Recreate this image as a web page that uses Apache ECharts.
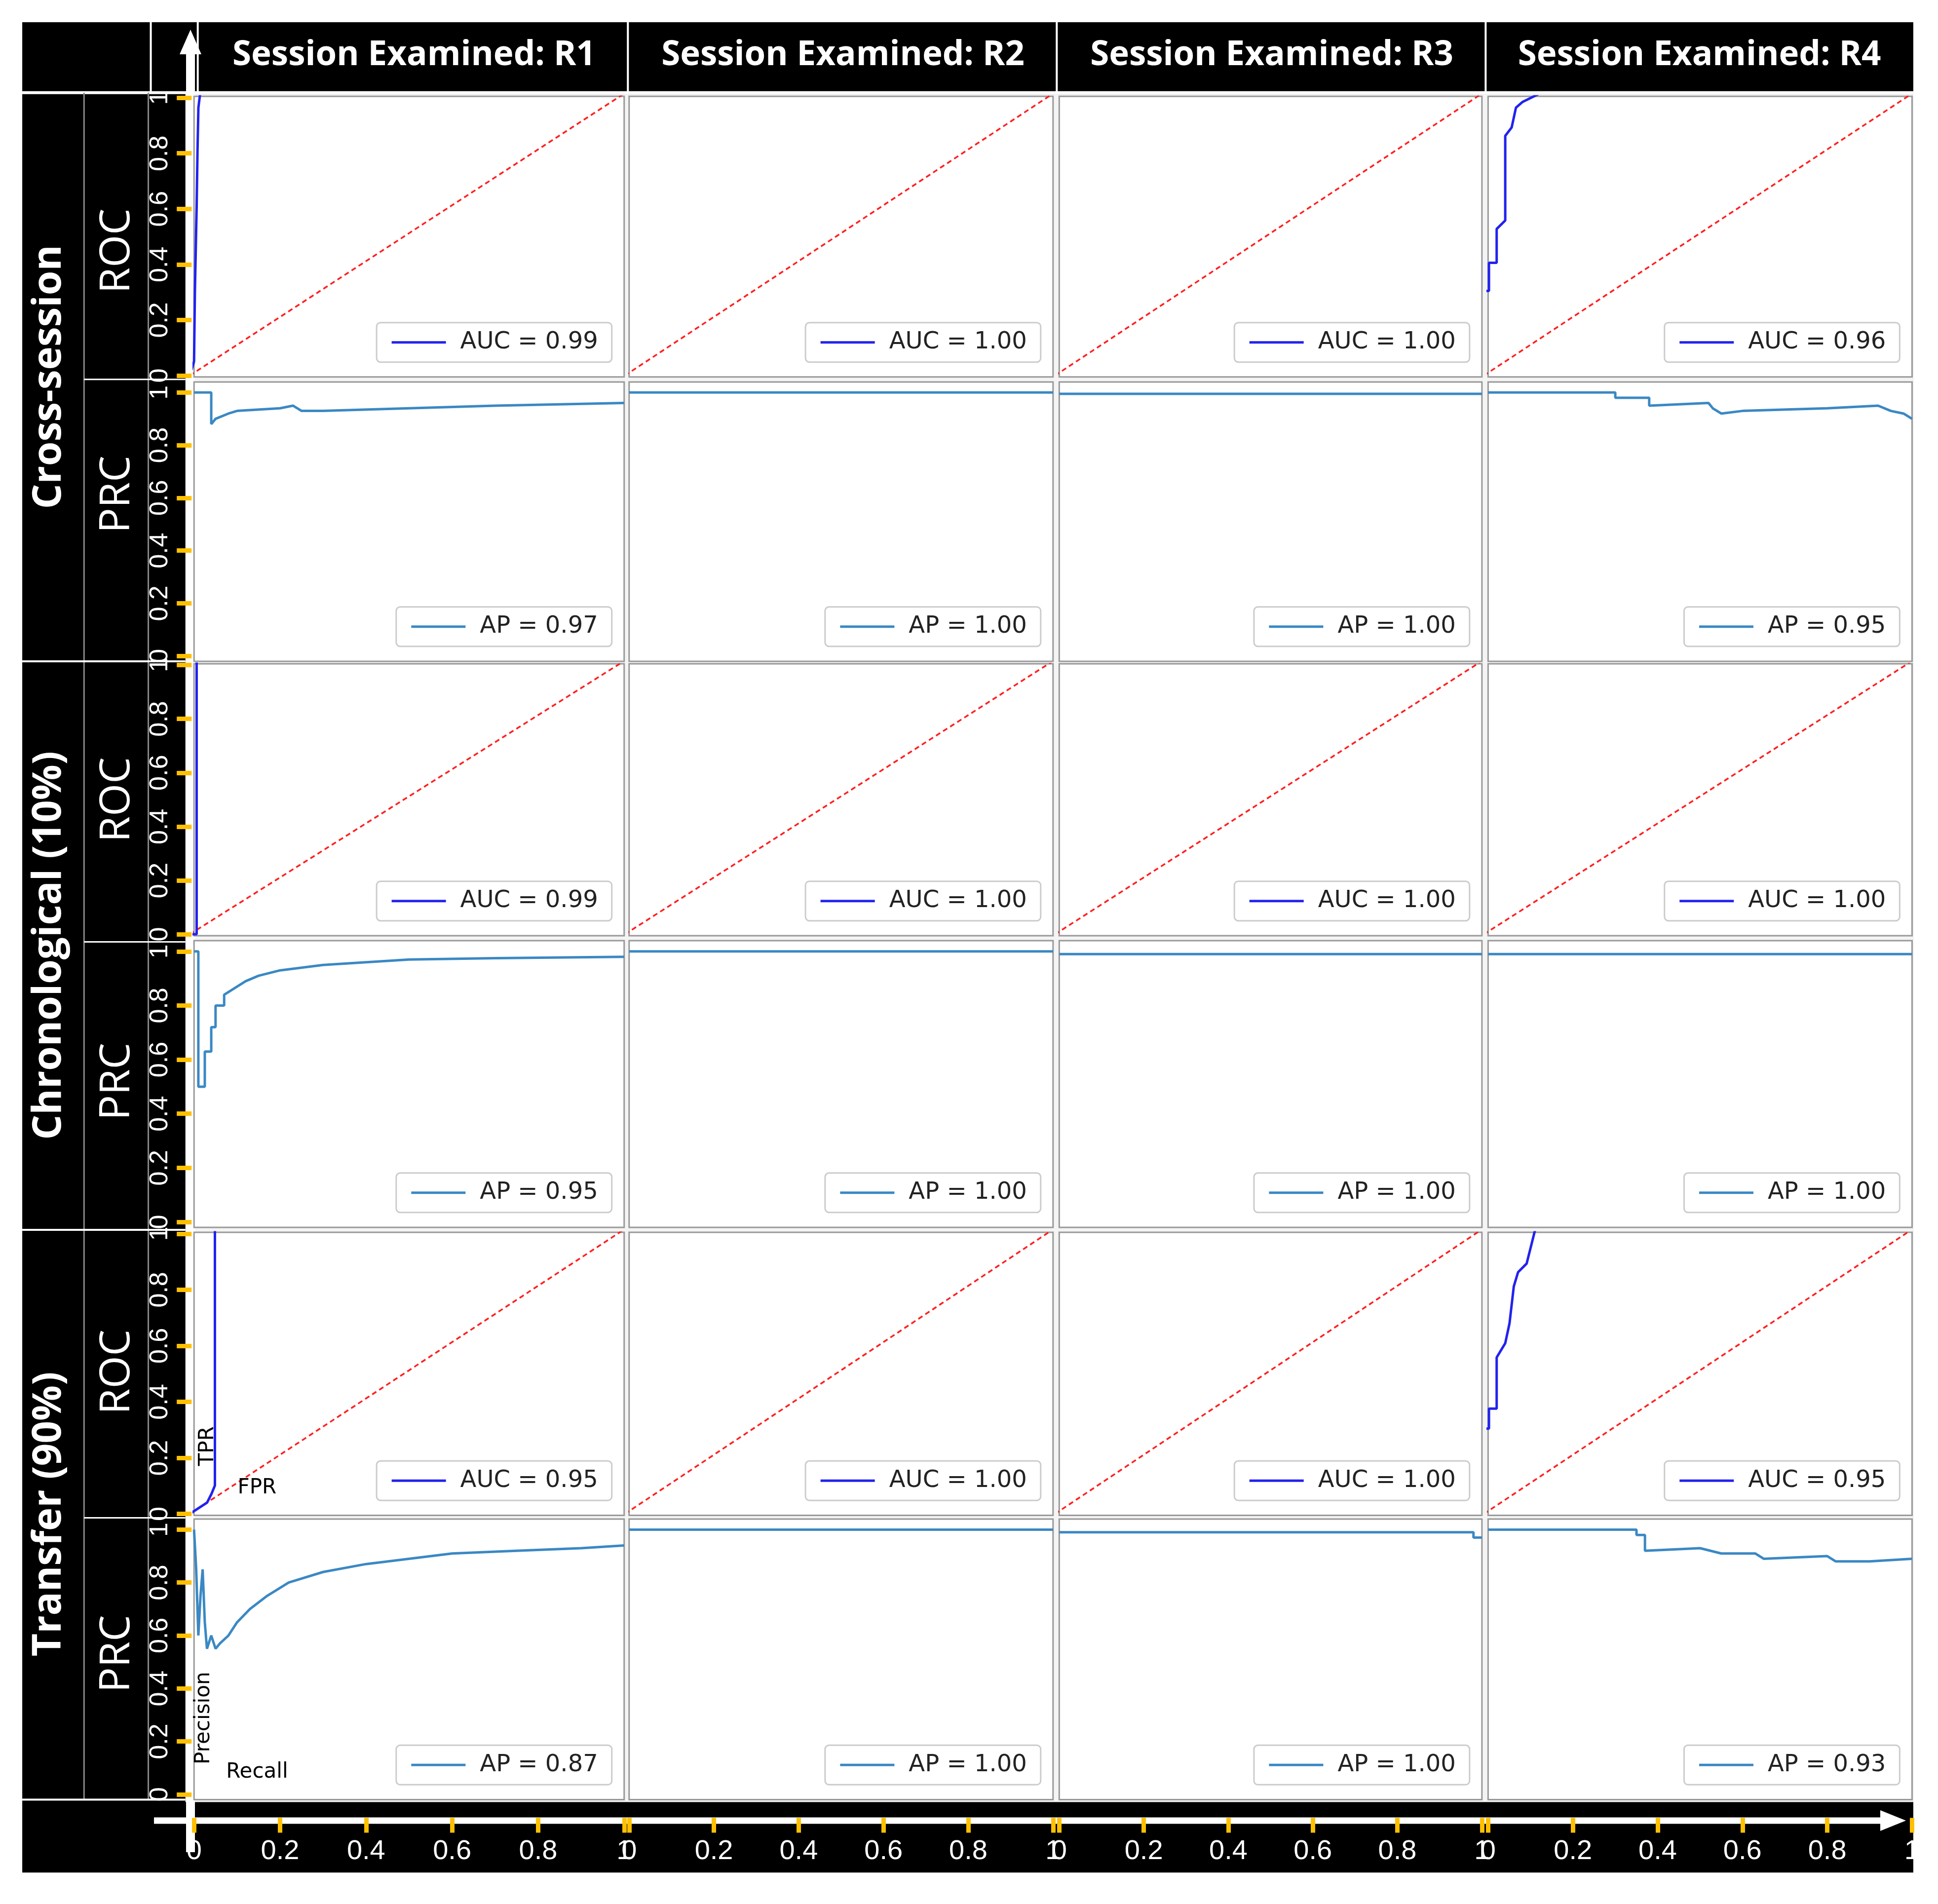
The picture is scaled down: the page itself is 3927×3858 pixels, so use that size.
<!DOCTYPE html><html><head><meta charset="utf-8">
<script src="https://cdn.jsdelivr.net/npm/echarts@6/dist/echarts.min.js"></script>
<style>html,body{margin:0;padding:0;background:#fff}#c{width:3927px;height:3858px}</style></head>
<body><div id="c"></div><script>
const columns = ['Session Examined: R1','Session Examined: R2','Session Examined: R3','Session Examined: R4'];
const groups = ['Cross-session','Chronological (10%)','Transfer (90%)'];
const rowKinds = ['ROC','PRC','ROC','PRC','ROC','PRC'];
const tickValues = [0,0.2,0.4,0.6,0.8,1];
const perfectRoc = [[0,0],[0,1],[1,1]];
const flatPrc = [[0,1],[1,1]];
const rocCS1 = [[0,0],[0.01,0.05],[0.012,0.3],[0.014,0.45],[0.016,0.6],[0.018,0.8],[0.02,0.95],[0.024,1],[1,1]];
const rocCS4 = [[0,0.3],[0.012,0.3],[0.012,0.4],[0.03,0.4],[0.03,0.52],[0.05,0.55],[0.05,0.85],[0.065,0.88],[0.075,0.95],[0.09,0.97],[0.13,1],[1,1]];
const prcCS1 = [[0,1],[0.04,1],[0.04,0.88],[0.05,0.9],[0.08,0.92],[0.1,0.93],[0.2,0.94],[0.23,0.95],[0.25,0.93],[0.3,0.93],[0.5,0.94],[0.7,0.95],[1,0.96]];
const prcCS3 = [[0,0.995],[1,0.995]];
const prcCS4 = [[0,1],[0.3,1],[0.3,0.98],[0.38,0.98],[0.38,0.95],[0.52,0.96],[0.53,0.94],[0.55,0.92],[0.6,0.93],[0.8,0.94],[0.92,0.95],[0.95,0.93],[0.98,0.92],[1,0.9]];
const rocCH1 = [[0,0],[0.016,0],[0.016,1],[1,1]];
const prcCH1 = [[0,1],[0.01,1],[0.01,0.5],[0.025,0.5],[0.025,0.63],[0.04,0.63],[0.04,0.72],[0.05,0.72],[0.05,0.8],[0.07,0.8],[0.07,0.84],[0.09,0.86],[0.12,0.89],[0.15,0.91],[0.2,0.93],[0.3,0.95],[0.5,0.97],[0.7,0.975],[1,0.98]];
const prcCH4 = [[0,0.99],[1,0.99]];
const rocTR1 = [[0,0],[0.02,0.02],[0.04,0.04],[0.05,0.07],[0.058,0.1],[0.058,1],[1,1]];
const rocTR4 = [[0,0.3],[0.012,0.3],[0.012,0.37],[0.03,0.37],[0.03,0.55],[0.05,0.6],[0.06,0.67],[0.07,0.8],[0.08,0.85],[0.1,0.88],[0.12,1],[1,1]];
const prcTR1 = [[0,1],[0.005,0.85],[0.01,0.6],[0.015,0.75],[0.02,0.85],[0.025,0.65],[0.03,0.55],[0.04,0.6],[0.05,0.55],[0.06,0.57],[0.08,0.6],[0.1,0.65],[0.13,0.7],[0.17,0.75],[0.22,0.8],[0.3,0.84],[0.4,0.87],[0.5,0.89],[0.6,0.91],[0.75,0.92],[0.9,0.93],[1,0.94]];
const prcTR3 = [[0,0.99],[0.98,0.99],[0.98,0.97],[1,0.97]];
const prcTR4 = [[0,1],[0.35,1],[0.35,0.98],[0.37,0.98],[0.37,0.92],[0.5,0.93],[0.55,0.91],[0.63,0.91],[0.65,0.89],[0.8,0.9],[0.82,0.88],[0.9,0.88],[1,0.89]];
const curves = [
 [rocCS1, perfectRoc, perfectRoc, rocCS4],
 [prcCS1, flatPrc, prcCS3, prcCS4],
 [rocCH1, perfectRoc, perfectRoc, perfectRoc],
 [prcCH1, flatPrc, prcCH4, prcCH4],
 [rocTR1, perfectRoc, perfectRoc, rocTR4],
 [prcTR1, flatPrc, prcTR3, prcTR4]
];
const labels = [
 ['AUC = 0.99','AUC = 1.00','AUC = 1.00','AUC = 0.96'],
 ['AP = 0.97','AP = 1.00','AP = 1.00','AP = 0.95'],
 ['AUC = 0.99','AUC = 1.00','AUC = 1.00','AUC = 1.00'],
 ['AP = 0.95','AP = 1.00','AP = 1.00','AP = 1.00'],
 ['AUC = 0.95','AUC = 1.00','AUC = 1.00','AUC = 0.95'],
 ['AP = 0.87','AP = 1.00','AP = 1.00','AP = 0.93']
];

const S = 3927/1568, W = 3927;
const xL=[157,509,857,1204], xR=[505,852,1199,1547];
const rowsY=[[78,305],[309,535],[537,757],[761,993],[997,1226],[1229,1456]];
const grid=[],xAxis=[],yAxis=[],series=[],legend=[],graphic=[];
graphic.push({type:'rect',z:-100,shape:{x:18*S,y:18*S,width:1530*S,height:1497*S},style:{fill:'#000'}});
graphic.push({type:'rect',z:-90,shape:{x:150*S,y:76*S,width:1398*S,height:1382*S},style:{fill:'#f4f4f4'}});
const fmt=v=>v===0?'0':v===1?'1':v.toFixed(1);
const tickStyle={show:true,customValues:tickValues,length:30,inside:false,lineStyle:{color:'#ffc000',width:9}};
const hiddenAxis=(k,min,max)=>({type:'value',gridIndex:k,min,max,show:false,splitLine:{show:false}});
let k=0;
for(let r=0;r<6;r++)for(let c=0;c<4;c++){
  const isRoc=rowKinds[r]==='ROC';
  grid.push({left:xL[c]*S,top:rowsY[r][0]*S,width:(xR[c]-xL[c])*S,height:(rowsY[r][1]-rowsY[r][0])*S,show:true,backgroundColor:'#fff',borderColor:'#999',borderWidth:3});
  const xi=xAxis.length, yi=yAxis.length;
  xAxis.push(hiddenAxis(k,isRoc?0.01:0,1));
  yAxis.push(hiddenAxis(k,isRoc?-0.005:-0.02,isRoc?0.99:1.04));
  if(r===5) xAxis.push({type:'value',gridIndex:k,min:0,max:1,position:'bottom',offset:37,
    axisLine:{show:true,onZero:false,lineStyle:{color:'rgba(0,0,0,0)'}},splitLine:{show:false},
    axisTick:tickStyle,
    axisLabel:{customValues:tickValues,color:'#fff',fontSize:56,margin:40,formatter:fmt}});
  if(c===0) yAxis.push({type:'value',gridIndex:k,min:isRoc?-0.005:-0.02,max:isRoc?1.005:1.04,position:'left',offset:5,
    axisLine:{show:true,onZero:false,lineStyle:{color:'rgba(0,0,0,0)'}},splitLine:{show:false},
    axisTick:tickStyle,
    axisLabel:{customValues:tickValues,color:'#fff',fontSize:52,rotate:90,margin:38,formatter:fmt}});
  const col=isRoc?'#2222ee':'#3a88c4';
  series.push({type:'line',name:labels[r][c],xAxisIndex:xi,yAxisIndex:yi,data:curves[r][c],symbol:'none',lineStyle:{color:col,width:5},itemStyle:{color:col},z:5,animation:false});
  if(isRoc) series.push({type:'line',name:'diag'+k,xAxisIndex:xi,yAxisIndex:yi,data:[[0,0],[1,1]],symbol:'none',lineStyle:{color:'#ff2020',width:3.5,type:[10,7]},z:4,animation:false});
  legend.push({data:[labels[r][c]],right:W-(xR[c]-10)*S,top:(rowsY[r][1]-44)*S,selectedMode:false,
    backgroundColor:'#fff',borderColor:'#ccc',borderWidth:3,borderRadius:8,padding:[16,28],itemWidth:110,itemHeight:20,itemGap:20,
    itemStyle:{opacity:0,borderWidth:0},lineStyle:{width:5},
    textStyle:{fontSize:48,color:'#222',fontFamily:'DejaVu Sans',padding:[0,0,0,24]}});
  k++;
}
const colC=[335,682,1029,1375];
columns.forEach((t,i)=>graphic.push({type:'text',x:colC[i]*S,y:45*S,style:{text:t,fill:'#fff',font:'bold 69px "Open Sans"',textAlign:'center',textVerticalAlign:'middle'}}));
graphic.push({type:'line',shape:{x1:18*S,y1:75*S,x2:1548*S,y2:75*S},style:{stroke:'#fff',lineWidth:6}});
[122,160,508,855,1202].forEach(x=>graphic.push({type:'line',shape:{x1:x*S,y1:18*S,x2:x*S,y2:75*S},style:{stroke:'#fff',lineWidth:4}}));
[68,120].forEach(x=>graphic.push({type:'line',shape:{x1:x*S,y1:75*S,x2:x*S,y2:1456*S},style:{stroke:'#888',lineWidth:3}}));
[535,995,1456].forEach(y=>graphic.push({type:'line',shape:{x1:18*S,y1:y*S,x2:150*S,y2:y*S},style:{stroke:'#fff',lineWidth:4}}));
[307,762,1228].forEach(y=>graphic.push({type:'line',shape:{x1:68*S,y1:y*S,x2:150*S,y2:y*S},style:{stroke:'#fff',lineWidth:3}}));
const gC=[305,765,1225];
groups.forEach((t,i)=>graphic.push({type:'text',x:40*S,y:gC[i]*S,rotation:Math.PI/2,style:{text:t,fill:'#fff',font:'bold 80px "Open Sans"',textAlign:'center',textVerticalAlign:'middle'}}));
const rowLabelY=[203,400,647,875,1110,1338];
rowKinds.forEach((t,i)=>graphic.push({type:'text',x:95*S,y:rowLabelY[i]*S,rotation:Math.PI/2,style:{text:t,fill:'#fff',font:'85px "Open Sans"',textAlign:'center',textVerticalAlign:'middle'}}));
graphic.push({type:'line',z:-80,shape:{x1:386,y1:3753,x2:386,y2:100},style:{stroke:'#fff',lineWidth:18}});
graphic.push({type:'polygon',z:-80,shape:{points:[[364,110],[408,110],[386,60]]},style:{fill:'#fff'}});
graphic.push({type:'line',z:-80,shape:{x1:312,y1:3689,x2:3820,y2:3689},style:{stroke:'#fff',lineWidth:13}});
graphic.push({type:'polygon',z:-80,shape:{points:[[3810,3668],[3810,3710],[3862,3689]]},style:{fill:'#fff'}});
graphic.push({type:'text',z:60,x:168*S,y:1170*S,rotation:Math.PI/2,style:{text:'TPR',fill:'#000',font:'42px "DejaVu Sans"',textAlign:'center',textVerticalAlign:'middle'}});
graphic.push({type:'text',z:60,x:208*S,y:1204*S,style:{text:'FPR',fill:'#000',font:'42px "DejaVu Sans"',textAlign:'center',textVerticalAlign:'middle'}});
graphic.push({type:'text',z:60,x:165*S,y:1390*S,rotation:Math.PI/2,style:{text:'Precision',fill:'#000',font:'42px "DejaVu Sans"',textAlign:'center',textVerticalAlign:'middle'}});
graphic.push({type:'text',z:60,x:208*S,y:1434*S,style:{text:'Recall',fill:'#000',font:'42px "DejaVu Sans"',textAlign:'center',textVerticalAlign:'middle'}});
const chart=echarts.init(document.getElementById('c'));
chart.setOption({animation:false,backgroundColor:'#fff',grid,xAxis,yAxis,series,legend,graphic});
</script></body></html>
